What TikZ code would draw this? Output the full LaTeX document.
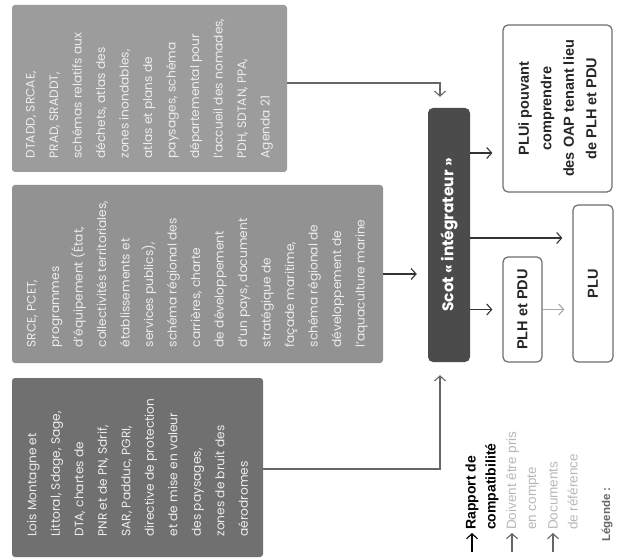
\documentclass[tikz,border=0pt]{standalone}
\usepackage{fontspec}
\setmainfont{Poppins}
\newfontfamily\arialf{Liberation Sans}
\usetikzlibrary{arrows.meta}
\definecolor{boxa}{HTML}{9C9C9C}
\definecolor{boxb}{HTML}{929292}
\definecolor{boxc}{HTML}{707070}
\definecolor{scotc}{HTML}{4B4B4B}
\definecolor{boxtxt}{HTML}{ECECEC}
\definecolor{edgec}{HTML}{6E6E6E}
\definecolor{legtxt}{HTML}{B8B8B8}
\definecolor{conn}{HTML}{666666}
\definecolor{lightconn}{HTML}{A8A8A8}
\begin{document}
\begin{tikzpicture}[x=1pt,y=1pt,
  graybox/.style={rounded corners=3pt, inner ysep=0pt, inner xsep=8pt, text=boxtxt, align=left,
    font=\fontsize{12.2}{23.5}\selectfont},
  whitebox/.style={draw=edgec, line width=1.2pt, rounded corners=5pt, fill=white, align=center,
    inner sep=0pt, font=\arialf\bfseries\fontsize{14.5}{22.5}\selectfont, text=black!85},
  arr/.style={-{Straight Barb[length=5pt,width=11pt]}, line width=1.1pt},
  legtext/.style={anchor=west, align=left, inner sep=0pt, font=\arialf\fontsize{13.5}{20}\selectfont}
]
\begin{scope}[rotate=90, transform shape]
\useasboundingbox (-559,-619) rectangle (0,0);
\fill[white] (-559,-619) rectangle (0,0);

% source boxes
\node[graybox, fill=boxa, minimum width=167pt, minimum height=275pt] (b1) at (-88.5,-149.5)
 {DTADD, SRCAE,\\PRAD, SRADDT,\\schémas relatifs aux\\déchets, atlas des\\zones inondables,\\atlas et plans de\\paysages, schéma\\départemental pour\\l'accueil des nomades,\\PDH, SDTAN, PPA,\\Agenda 21};
\node[graybox, fill=boxb, minimum width=178pt, minimum height=371pt, inner xsep=3pt] (b2) at (-274,-197.5)
 {SRCE, PCET,\\programmes\\d'équipement (État,\\collectivités territoriales,\\établissements et\\services publics),\\schéma régional des\\carrières, charte\\de développement\\d'un pays, document\\stratégique de\\façade maritime,\\schéma régional de\\développement de\\l'aquaculture marine};
\node[graybox, fill=boxc, minimum width=179pt, minimum height=251pt] (b3) at (-467.5,-137.5)
 {Lois Montagne et\\Littoral, Sdage, Sage,\\DTA, chartes de\\PNR et de PN, Sdrif,\\SAR, Padduc, PGRI,\\directive de protection\\et de mise en valeur\\des paysages,\\zones de bruit des\\aérodromes};

% Scot
\node[fill=scotc, rounded corners=5pt, minimum width=254pt, minimum height=42pt, inner sep=0pt,
  text=white, font=\bfseries\fontsize{15.5}{17}\selectfont] (scot) at (-235,-449) {Scot «~intégrateur~»};

% targets
\node[whitebox, minimum width=167pt, minimum height=109pt] (plui) at (-108.5,-557.5)
 {PLUi pouvant\\comprendre\\des OAP tenant lieu\\de PLH et PDU};
\node[whitebox, minimum width=105pt, minimum height=39pt] (plh) at (-309.5,-522.5) {PLH et PDU};
\node[whitebox, minimum width=157pt, minimum height=40pt] (plu) at (-283.5,-593) {PLU};

% connectors into Scot
\coordinate (c1) at (-83,-440);
\coordinate (c3) at (-469,-440);
\draw[arr, draw=conn, shorten >=11pt] (c1 |- b1.south) -- (c1) -- (scot.east |- c1);
\draw[arr, draw=black!80, shorten >=11pt] (b2.south) -- (b2.south |- scot.north);
\draw[arr, draw=conn, shorten >=13pt] (c3 |- b3.south) -- (c3) -- (scot.west |- c3);

% connectors out of Scot
\draw[arr, draw=black!80, shorten >=10pt] (-153,0 |- scot.south) -- (-153,0 |- plui.north);
\draw[arr, draw=black!80, shorten >=10pt] (-238,0 |- scot.south) -- (-238,0 |- plu.north);
\draw[arr, draw=black!80, shorten >=10pt] (plh.north |- scot.south) -- (plh.north);
\draw[arr, draw=lightconn, shorten >=8pt] (plh.south) -- (plh.south |- plu.north);

% legend
\coordinate (l1s) at (-552,-472); \coordinate (l1e) at (-533,-472);
\coordinate (l2s) at (-552,-512); \coordinate (l2e) at (-533,-512);
\coordinate (l3s) at (-552,-553); \coordinate (l3e) at (-533,-553);
\draw[arr, draw=black] (l1s) -- (l1e);
\draw[arr, draw=conn] (l2s) -- (l2e);
\draw[arr, draw=conn] (l3s) -- (l3e);
\node[legtext, font=\arialf\bfseries\fontsize{14}{20}\selectfont, text=black] (lg1) at (-530,-482) {Rapport de\\compatibilité};
\node[legtext, text=legtxt] (lg2) at (-530,-522.5) {Doivent être pris\\en compte};
\node[legtext, text=legtxt] (lg3) at (-530,-563) {Documents\\de référence};
\node[legtext, font=\arialf\bfseries\fontsize{11.5}{13}\selectfont, text=black!60] (lg0) at (-542,-607) {Légende :};
\end{scope}
\end{tikzpicture}
\end{document}
